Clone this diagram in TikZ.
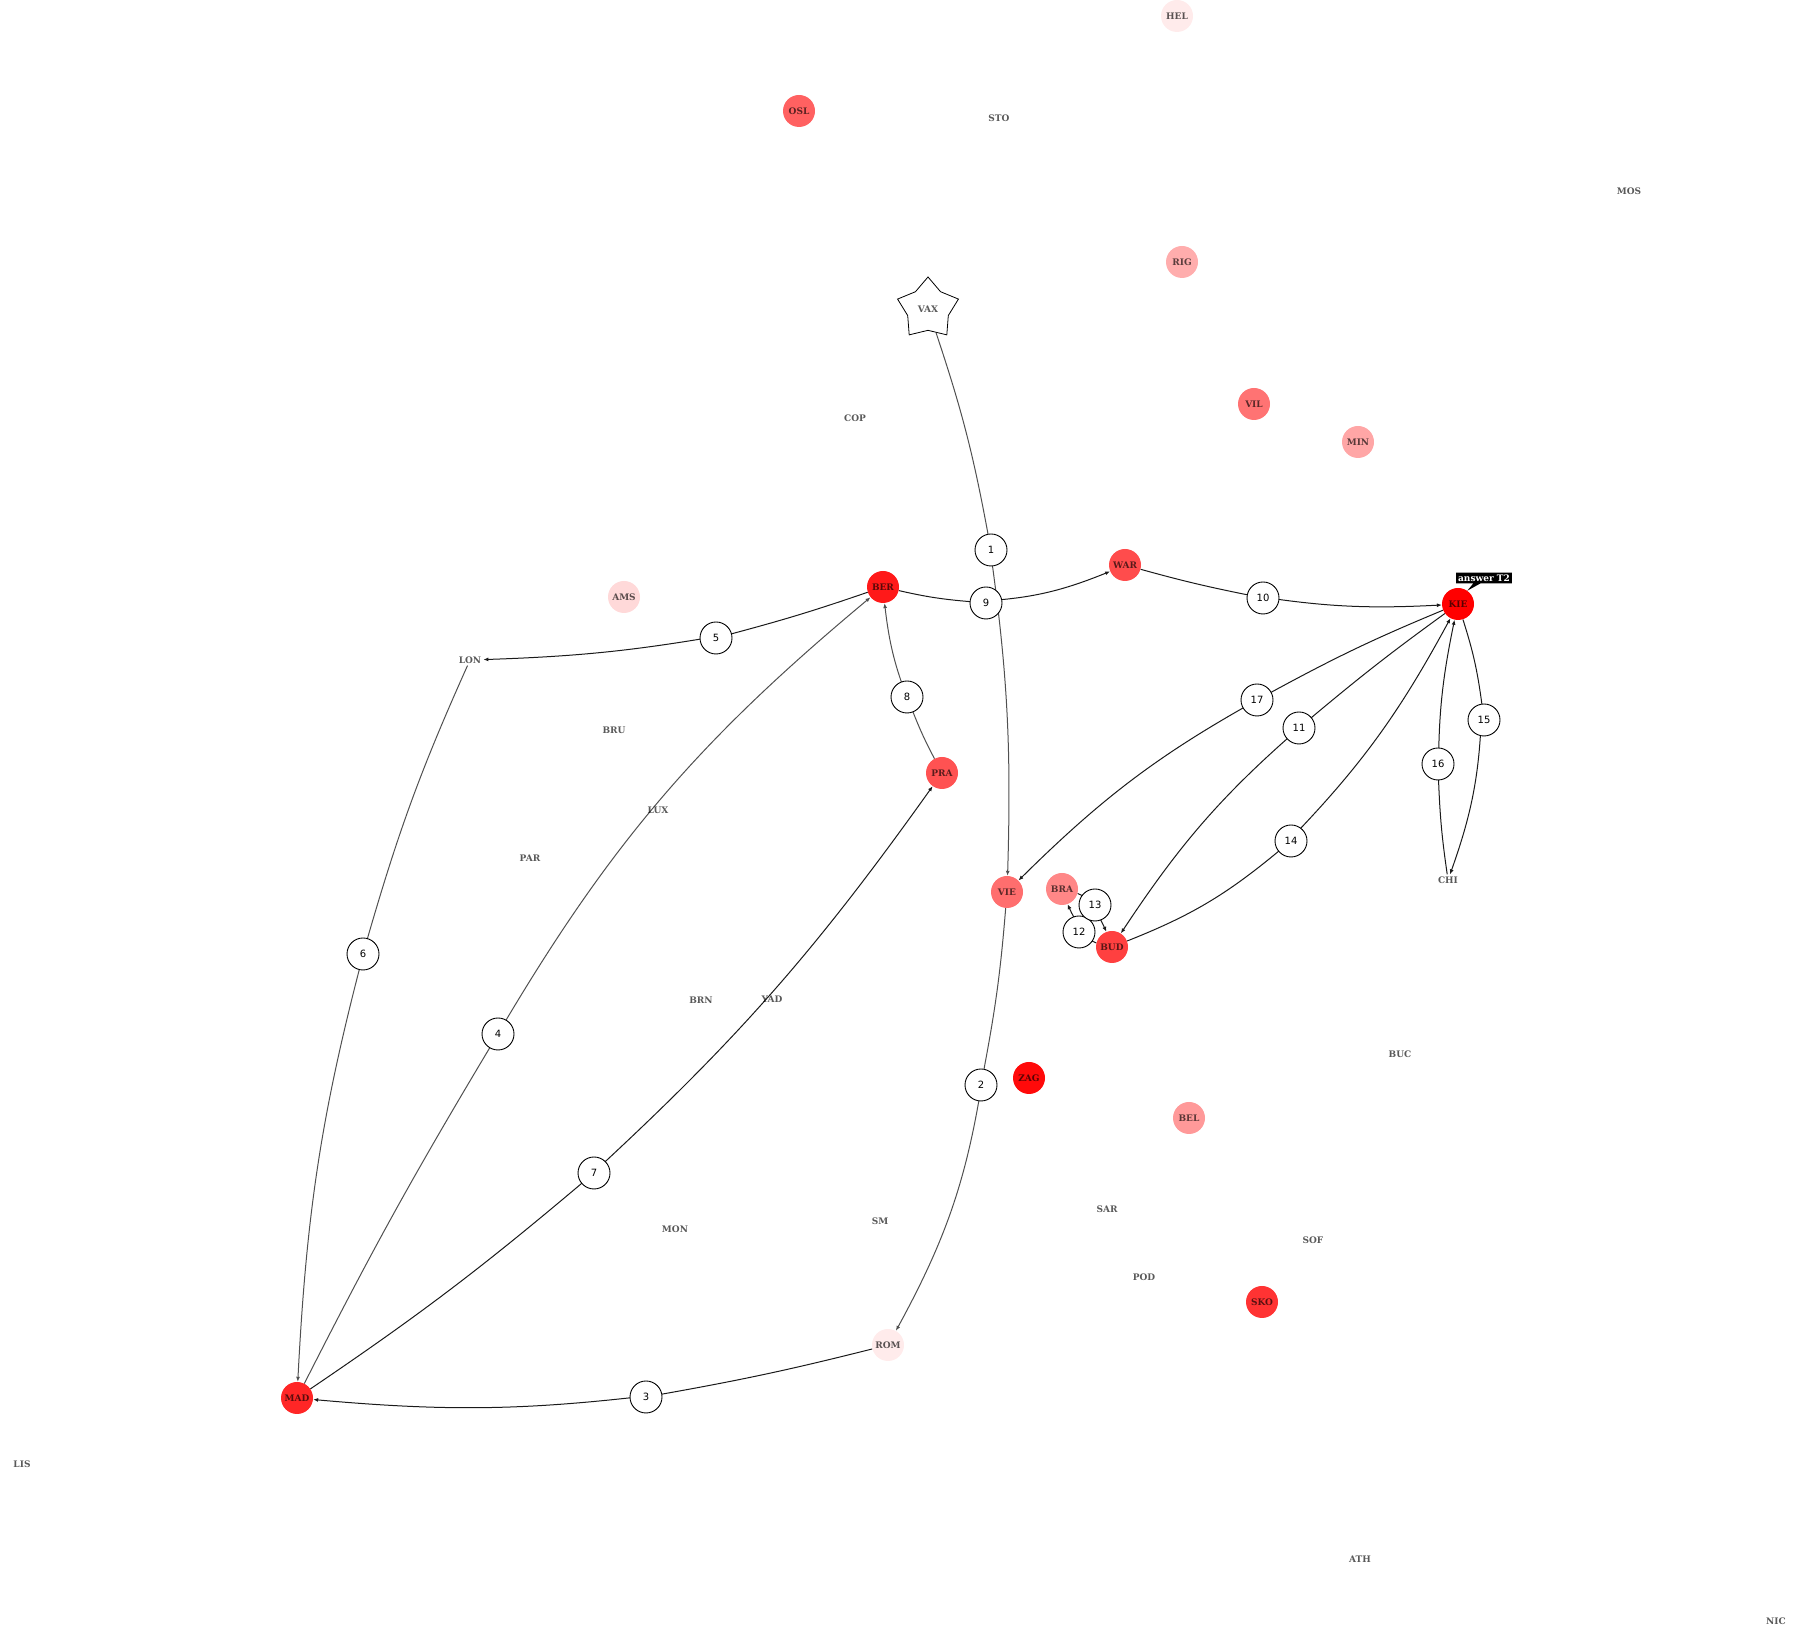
\documentclass[tikz,border=0pt]{standalone}
\usepackage{fontspec}
\setmainfont{DejaVu Serif}
\setsansfont{DejaVu Sans}
\usetikzlibrary{arrows.meta,shapes.geometric,shapes.callouts,backgrounds}
\definecolor{wire}{HTML}{1A1A1A}
\definecolor{dim}{HTML}{505050}
\newcommand{\CityFont}{\fontsize{9}{10}\selectfont\bfseries}
\newcommand{\HopFont}{\sffamily\fontsize{10}{12}\selectfont}

\begin{document}
\begin{tikzpicture}[
    x=1pt, y=1pt,
    place/.style={font=\CityFont, text=black, text opacity=0.65, inner sep=2pt},
    city/.style={place, circle, fill=red!#1, minimum size=32pt, inner sep=0pt},
    legnum/.style={circle, draw=black, line width=0.9pt, fill=white, minimum size=32pt, inner sep=0pt, font=\HopFont},
    edge/.style={-{Latex[length=5pt,width=4pt]}, line width=1pt, draw=#1},
  ]
\useasboundingbox (0,0) rectangle (1794,1629);

% --- places with no weight ---------------------------------------------------
\foreach \nm/\x/\y in {STO/999/1511, MOS/1629/1438, COP/855/1211, LON/470/969,
    BRU/614/899, LUX/658/819, PAR/530/771, CHI/1448/749, BRN/701/629, YAD/772/630,
    BUC/1400/575, SAR/1107/420, SM/880/408, MON/675/400, SOF/1313/389,
    POD/1144/352, LIS/22/165, ATH/1360/70, NIC/1776/8}
  \node[place] (\nm) at (\x,\y) {\nm};

% --- weighted places ---------------------------------------------------------
\foreach \nm/\x/\y/\heat in {HEL/1177/1613/8, OSL/799/1518/62, RIG/1182/1367/32,
    VIL/1254/1225/55, MIN/1358/1187/35, WAR/1125/1064/70, BER/883/1042/90,
    AMS/624/1032/15, KIE/1458/1025/100, PRA/942/856/68, VIE/1007/737/57,
    BRA/1062/740/47, BUD/1112/682/75, ZAG/1029/551/96, BEL/1189/511/40,
    SKO/1262/327/80, ROM/888/284/8, MAD/297/231/85}
  \node[city=\heat] (\nm) at (\x,\y) {\nm};

% --- start -------------------------------------------------------------------
\node[place, star, star points=5, star point ratio=1.5, minimum size=64pt,
  draw=black, line width=0.8pt, fill=white] (VAX) at (928,1320) {VAX};

% --- legs: from / leg / to / bend of each half (negative bends right) ---------
\foreach \i/\x/\y in {1/991/1079, 2/981/544, 3/646/232, 4/498/595, 5/716/991,
    6/363/675, 7/594/456, 8/907/932, 9/986/1026, 10/1263/1031, 11/1299/901,
    12/1079/697, 13/1095/724, 14/1291/788, 15/1484/909, 16/1438/865, 17/1257/929}
  \node[legnum] (n\i) at (\x,\y) {\i};

\begin{pgfonlayer}{background}
\foreach \a/\i/\b/\s/\t/\c in {VAX/1/VIE/4/5/dim, VIE/2/ROM/3/10/dim,
    ROM/3/MAD/2/6/wire, MAD/4/BER/2/10/dim, BER/5/LON/2/4/wire,
    LON/6/MAD/-4/-6/dim, MAD/7/PRA/-3/-6/wire, PRA/8/BER/3/8/dim,
    BER/9/WAR/-4/-10/wire, WAR/10/KIE/-2/-6/wire, KIE/11/BUD/-2/-8/wire,
    BUD/12/BRA/10/10/wire, BRA/13/BUD/10/10/wire, BUD/14/KIE/-9/-8/wire,
    KIE/15/CHI/5/9/wire, CHI/16/KIE/3/6/wire, KIE/17/VIE/-3/-8/wire}
  \draw[edge=\c] (\a) to[bend left=\s] (n\i) to[bend left=\t] (\b);
\end{pgfonlayer}

% --- answer tag --------------------------------------------------------------
\node[rectangle callout, fill=black, text=white, font=\CityFont, inner sep=2pt,
  callout absolute pointer={(KIE.55)}] (tag) at (1484,1051) {answer T2};

\end{tikzpicture}
\end{document}
